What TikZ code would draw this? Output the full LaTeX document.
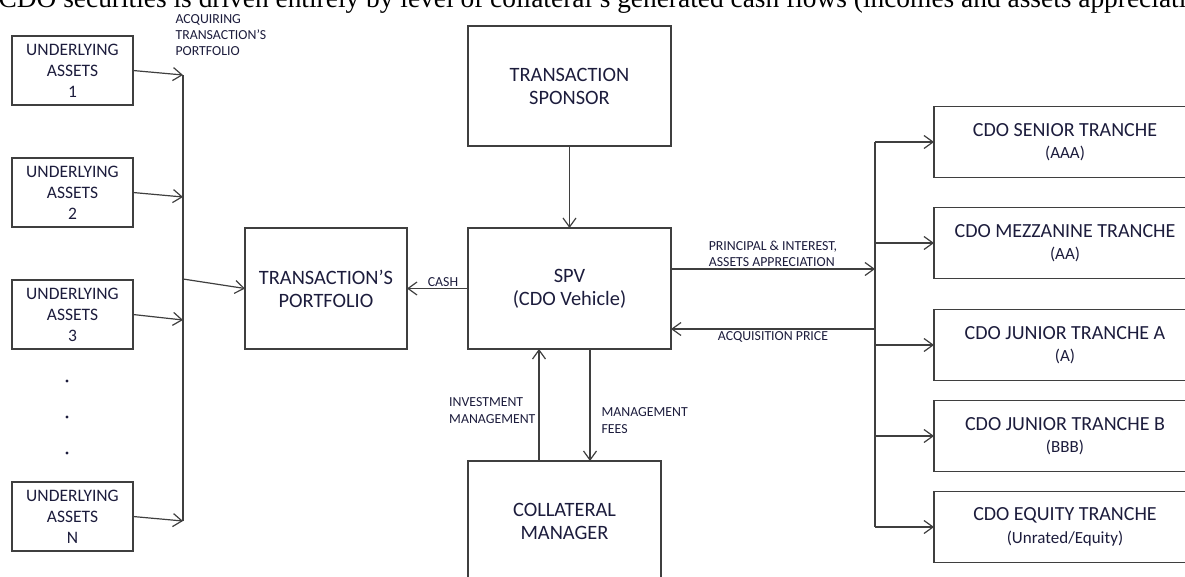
\documentclass[tikz,border=0pt]{standalone}
\usepackage{fontspec}
\setmainfont{Carlito}
\newfontfamily\pagefont{Liberation Serif}
\usetikzlibrary{arrows.meta,positioning}
\definecolor{linecol}{HTML}{3F3F3F}
\definecolor{inkcol}{HTML}{1C1C3C}
\newcommand\rating{\fontsize{17}{20}\selectfont}

\begin{document}
\begin{tikzpicture}[x=1pt, y=-1pt, line width=1.2pt, color=linecol,
  >={Straight Barb[length=9pt,width=13pt]},
  box/.style={draw, text=inkcol, align=center, inner sep=0pt, outer sep=0pt, font=\fontsize{20.4}{23}\selectfont},
  asset/.style={box, minimum width=121pt, minimum height=69pt, font=\fontsize{17.5}{21}\selectfont},
  big/.style={box, minimum width=203pt, minimum height=121pt},
  tranche/.style={box, minimum width=262pt, minimum height=71pt, font=\fontsize{20}{22.5}\selectfont},
  lbl/.style={text=inkcol, inner sep=1pt, font=\fontsize{13.8}{16.3}\selectfont}]
\useasboundingbox (0,0) rectangle (1185,576);
\clip (0,0) rectangle (1185,576);
\node[anchor=base west, inner sep=0pt, text=black, font=\pagefont\fontsize{27.4}{30}\selectfont] (hdr) at (-2,7)
  {CDO securities is driven entirely by level of collateral’s generated cash flows (incomes and assets appreciation)};
% underlying assets
\node[asset] (ua1) at (72.5,70.5) {UNDERLYING\\ASSETS\\1};
\node[asset, below=53pt of ua1] (ua2) {UNDERLYING\\ASSETS\\2};
\node[asset, below=53pt of ua2] (ua3) {UNDERLYING\\ASSETS\\3};
\node[asset, below=133pt of ua3] (uan) {UNDERLYING\\ASSETS\\N};
\foreach \y in {381,417,453} \fill[inkcol] (67,\y) circle (1.6pt);
% middle
\node[big, minimum width=162pt] (tp) at (326,288.5) {TRANSACTION’S\\PORTFOLIO};
\node[big] (spv) at (569.5,288.5) {SPV\\(CDO Vehicle)};
\node[big, minimum height=120pt, above=82pt of spv] (ts) {TRANSACTION\\SPONSOR};
\node[big, minimum width=193pt, minimum height=120pt] (cm) at (564.5,521) {COLLATERAL\\MANAGER};
% tranches
\node[tranche] (sen) at (1065,142) {CDO SENIOR TRANCHE\\\rating (AAA)};
\node[tranche, below=30pt of sen] (mez) {CDO MEZZANINE TRANCHE\\\rating (AA)};
\node[tranche, below=31pt of mez] (ja) {CDO JUNIOR TRANCHE A\\\rating (A)};
\node[tranche, below=20pt of ja] (jb) {CDO JUNIOR TRANCHE B\\\rating (BBB)};
\node[tranche, below=20pt of jb] (eq) {CDO EQUITY TRANCHE\\\rating (Unrated/Equity)};
% joints
\coordinate (j1) at (183,75);
\coordinate (j2) at (183,197);
\coordinate (j3) at (183,320);
\coordinate (jn) at (183,521);
\coordinate (jo) at (183,279);
\coordinate (bus) at (875,0);
\coordinate (pi) at ([yshift=19.5pt]spv.east);
\coordinate (ap) at ([yshift=-40.5pt]spv.east);
\coordinate (im) at ([xshift=-25.5pt]cm.north);
\coordinate (mf) at ([xshift=25.5pt]cm.north);
% connectors
\node[lbl, anchor=west, align=left] (acq) at (174,35) {ACQUIRING\\TRANSACTION’S\\PORTFOLIO};
\draw (j1) -- (jn);
\foreach \a/\j in {ua1/j1, ua2/j2, ua3/j3, uan/jn} \draw[->] (\a.east) -- (\j);
\draw[->] (jo) -- (tp.west);
\draw[->] (spv.west) -- node[lbl, above, pos=0.41] {CASH} (tp.east);
\draw[->] (ts) -- (spv);
\draw[->] (pi) -- node[lbl, above=1pt, align=left] {PRINCIPAL \& INTEREST,\\ASSETS APPRECIATION} (pi -| bus);
\draw[->] (ap -| bus) -- node[lbl, below=1pt] {ACQUISITION PRICE} (ap);
\draw[->] (im) -- node[lbl, left=2pt, pos=0.45, align=left] {INVESTMENT\\MANAGEMENT} (im |- spv.south);
\draw[->] (mf |- spv.south) -- node[lbl, right=10pt, pos=0.64, align=left] {MANAGEMENT\\FEES} (mf);
\draw (sen.west -| bus) -- (eq.west -| bus);
\foreach \t in {sen,mez,ja,jb,eq} \draw[->] (\t.west -| bus) -- (\t.west);
\end{tikzpicture}
\end{document}
